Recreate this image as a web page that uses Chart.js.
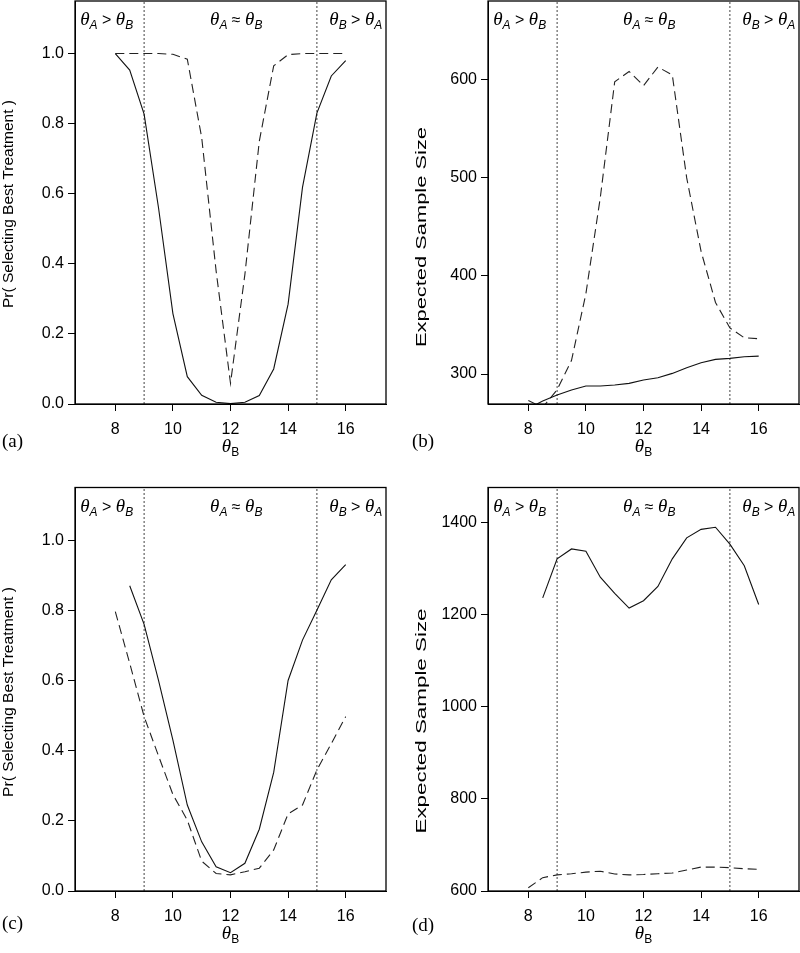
<!DOCTYPE html>
<html>
<head>
<meta charset="utf-8">
<script src="https://cdn.jsdelivr.net/npm/chart.js@4.4.0/dist/chart.umd.min.js"></script>
<style>
  html, body { margin: 0; padding: 0; background: #fff; }
  #wrap { position: relative; width: 800px; height: 953px; }
  canvas { position: absolute; }
</style>
</head>
<body>
<div id="wrap">
  <canvas id="chartA" width="400" height="470" style="left:0;top:0"></canvas>
  <canvas id="chartB" width="400" height="470" style="left:400px;top:0"></canvas>
  <canvas id="chartC" width="400" height="473" style="left:0;top:480px"></canvas>
  <canvas id="chartD" width="400" height="473" style="left:400px;top:480px"></canvas>
</div>
<script>
// theta_B values (shared x for every panel)
const thetaB = [8, 8.5, 9, 9.5, 10, 10.5, 11, 11.5, 12, 12.5, 13, 13.5, 14, 14.5, 15, 15.5, 16];

// (a) probability of selecting best treatment
const probSolidA  = [1.0, 0.953, 0.827, 0.56, 0.258, 0.078, 0.025, 0.005, 0.001, 0.005, 0.024, 0.10, 0.285, 0.618, 0.83, 0.936, 0.98];
const probDashedA = [1.0, 1.0, 1.0, 1.0, 0.998, 0.984, 0.76, 0.38, 0.059, 0.37, 0.75, 0.965, 0.997, 1.0, 1.0, 1.0, 1.0];

// (b) expected sample size
const sizeSolidB  = [265, 272.5, 278.6, 283.7, 287.8, 287.8, 288.8, 290.5, 294, 296.3, 300.7, 306.4, 311.5, 315, 316, 317.6, 318.3];
const sizeDashedB = [273, 266, 284, 314, 382, 480, 598, 608.5, 594, 613, 605, 500, 425, 373, 347, 337, 336];

// (c) probability of selecting best treatment
const probSolidC  = [null, 0.87, 0.76, 0.60, 0.43, 0.245, 0.14, 0.069, 0.052, 0.079, 0.176, 0.338, 0.60, 0.715, 0.80, 0.887, 0.93];
const probDashedC = [0.796, 0.649, 0.497, 0.385, 0.275, 0.202, 0.085, 0.05, 0.046, 0.055, 0.065, 0.117, 0.22, 0.245, 0.345, 0.42, 0.497];

// (d) expected sample size
const sizeSolidD  = [null, 1237, 1322, 1343.5, 1338.5, 1282, 1247, 1215, 1231, 1262, 1322, 1367.5, 1386, 1390.6, 1354, 1307, 1222.6];
const sizeDashedD = [607, 629, 635, 637.6, 641, 643, 637, 635, 635.8, 637.6, 639, 645.6, 652, 652, 650.6, 648.4, 647];

// axis ticks
const xTicks = [8, 10, 12, 14, 16];
const probTicks = [0, 0.2, 0.4, 0.6, 0.8, 1.0];
const sizeTicksB = [300, 400, 500, 600];
const sizeTicksD = [600, 800, 1000, 1200, 1400];

// region boundaries and label spots (in theta_B units)
const boundaries = [9, 15];
const regionX = [7.7, 12.2, 16.35];

const SANS = '"Liberation Sans", Arial, sans-serif';
const SERIF = '"Liberation Serif", "Times New Roman", serif';

const th = { text: '\u03b8', font: 'italic 19px ' + SERIF, dy: 0 };
const subA = { text: 'A', font: 'italic 12px ' + SANS, dy: 4 };
const subB = { text: 'B', font: 'italic 12px ' + SANS, dy: 4 };
const op = t => ({ text: t, font: '16px ' + SANS, dy: 0 });
const regionParts = [
  [th, subA, op(' > '), th, subB],
  [th, subA, op(' \u2248 '), th, subB],
  [th, subB, op(' > '), th, subA]
];
const xTitleParts = [th, { text: 'B', font: '12px ' + SANS, dy: 4 }];

function drawRich(ctx, parts, cx, baseY) {
  let total = 0;
  const widths = parts.map(p => { ctx.font = p.font; const w = ctx.measureText(p.text).width; total += w; return w; });
  let x = cx - total / 2;
  ctx.textAlign = 'left';
  ctx.textBaseline = 'alphabetic';
  parts.forEach((p, i) => {
    ctx.font = p.font;
    ctx.fillText(p.text, x, baseY + p.dy);
    x += widths[i];
  });
}

const framePlugin = {
  id: 'frame',
  afterDraw(chart, args, o) {
    const { ctx, chartArea: a } = chart;
    const x = chart.scales.x;
    ctx.save();
    ctx.fillStyle = '#000';
    ctx.strokeStyle = '#000';
    ctx.lineWidth = 1.3;
    ctx.strokeRect(a.left, a.top, a.right - a.left, a.bottom - a.top);
    regionX.forEach((v, i) => drawRich(ctx, regionParts[i], x.getPixelForValue(v), a.top + 24));
    drawRich(ctx, xTitleParts, (a.left + a.right) / 2, a.bottom + 48);
    // panel letter
    ctx.font = '19px ' + SERIF;
    ctx.textAlign = 'left';
    ctx.textBaseline = 'alphabetic';
    ctx.fillText(o.letter, o.letterX, a.bottom + o.letterDy);
    // y title, stretched to the length seen in the figure
    ctx.translate(o.yTitleX, o.yTitleY);
    ctx.rotate(-Math.PI / 2);
    ctx.font = '14px ' + SANS;
    const w = ctx.measureText(o.yTitle).width;
    ctx.scale(o.yTitleLen / w, 1);
    ctx.textAlign = 'center';
    ctx.textBaseline = 'middle';
    ctx.fillText(o.yTitle, 0, 0);
    ctx.restore();
  }
};

function makePanel(id, cfg) {
  const canvas = document.getElementById(id);
  const W = canvas.width, H = canvas.height, area = cfg.area;
  const pts = arr => thetaB.map((x, i) => ({ x: x, y: arr[i] }));
  const vline = b => ({
    data: [{ x: b, y: cfg.yMin }, { x: b, y: cfg.yMax }],
    borderColor: '#444', borderWidth: 1, borderDash: [2, 2], pointRadius: 0
  });
  const axisStyle = {
    grid: { drawOnChartArea: false, drawTicks: true, tickLength: 7, color: '#000', lineWidth: 1 },
    border: { display: true, color: '#000', width: 1 }
  };
  new Chart(canvas, {
    type: 'line',
    data: {
      datasets: [
        { data: pts(cfg.solid), borderColor: '#111', borderWidth: 1.1, pointRadius: 0, tension: 0 },
        { data: pts(cfg.dashed), borderColor: '#222', borderWidth: 1.1, borderDash: [9, 5], pointRadius: 0, tension: 0 },
        vline(boundaries[0]),
        vline(boundaries[1])
      ]
    },
    options: {
      responsive: false,
      animation: false,
      layout: { padding: { top: area.top, right: W - area.right, left: 0, bottom: 0 } },
      plugins: {
        legend: { display: false },
        tooltip: { enabled: false },
        frame: cfg.frame
      },
      scales: {
        x: Object.assign({
          type: 'linear', min: 6.6, max: 17.4,
          afterBuildTicks: s => { s.ticks = xTicks.map(v => ({ value: v })); },
          afterFit: s => { s.height = H - area.bottom; s.paddingLeft = 0; s.paddingRight = 0; },
          ticks: { color: '#000', font: { family: SANS, size: 16 }, padding: 9, maxRotation: 0, autoSkip: false }
        }, axisStyle),
        y: Object.assign({
          type: 'linear', min: cfg.yMin, max: cfg.yMax,
          afterBuildTicks: s => { s.ticks = cfg.yTicks.map(v => ({ value: v })); },
          afterFit: s => { s.width = area.left; s.paddingTop = 0; s.paddingBottom = 0; },
          ticks: { color: '#000', font: { family: SANS, size: 16 }, padding: 4, autoSkip: false, callback: cfg.fmt }
        }, axisStyle)
      }
    },
    plugins: [framePlugin]
  });
}

const fmt1 = v => v.toFixed(1);
const fmt0 = v => String(v);

makePanel('chartA', {
  solid: probSolidA, dashed: probDashedA, yMin: 0, yMax: 1.15, yTicks: probTicks, fmt: fmt1,
  area: { left: 75, top: 1, right: 386, bottom: 404 },
  frame: { letter: '(a)', letterX: 2, letterDy: 43, yTitle: 'Pr( Selecting Best Treatment )', yTitleX: 9, yTitleY: 204, yTitleLen: 208 }
});
makePanel('chartB', {
  solid: sizeSolidB, dashed: sizeDashedB, yMin: 269.5, yMax: 680.3, yTicks: sizeTicksB, fmt: fmt0,
  area: { left: 88, top: 1, right: 399, bottom: 404 },
  frame: { letter: '(b)', letterX: 12, letterDy: 43, yTitle: 'Expected Sample Size', yTitleX: 22, yTitleY: 237, yTitleLen: 220 }
});
makePanel('chartC', {
  solid: probSolidC, dashed: probDashedC, yMin: 0, yMax: 1.15, yTicks: probTicks, fmt: fmt1,
  area: { left: 75, top: 7.5, right: 386, bottom: 411 },
  frame: { letter: '(c)', letterX: 2, letterDy: 38, yTitle: 'Pr( Selecting Best Treatment )', yTitleX: 9, yTitleY: 212, yTitleLen: 210 }
});
makePanel('chartD', {
  solid: sizeSolidD, dashed: sizeDashedD, yMin: 600, yMax: 1477, yTicks: sizeTicksD, fmt: fmt0,
  area: { left: 88, top: 7.5, right: 399, bottom: 411 },
  frame: { letter: '(d)', letterX: 12, letterDy: 40, yTitle: 'Expected Sample Size', yTitleX: 22, yTitleY: 241, yTitleLen: 225 }
});
</script>
</body>
</html>
